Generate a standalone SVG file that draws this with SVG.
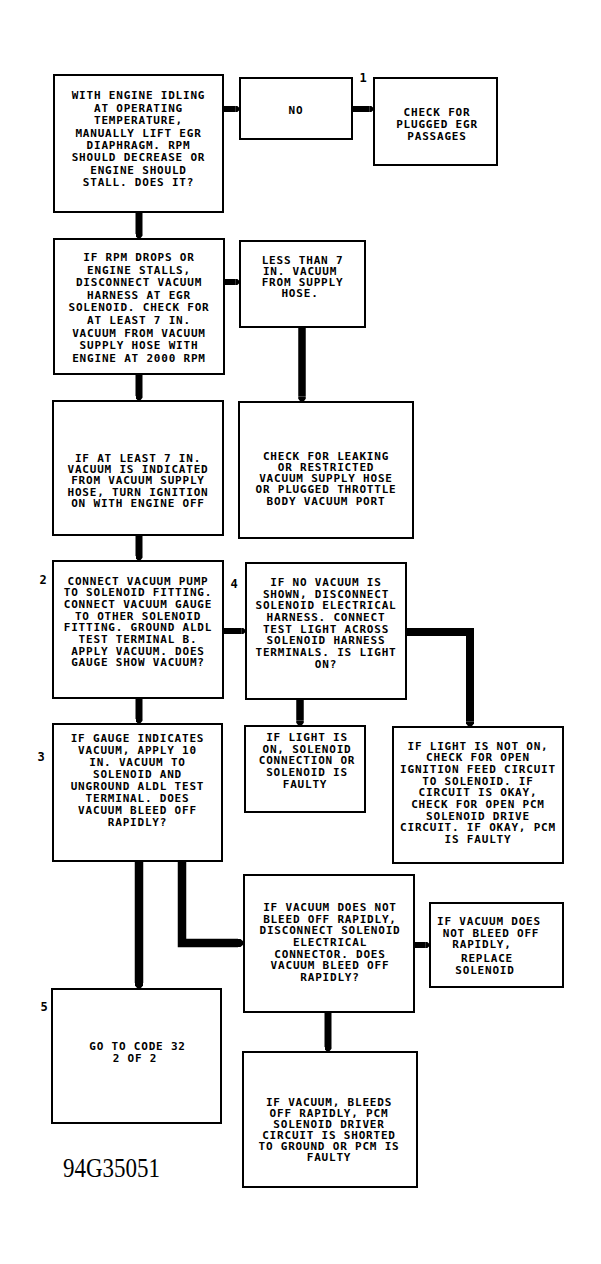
<svg xmlns="http://www.w3.org/2000/svg" width="601" height="1264" viewBox="0 0 601 1264">
<style>
.box{fill:#fff;stroke:#000;stroke-width:2}
.t{font-family:"DejaVu Sans Mono","Liberation Mono",monospace;font-size:11px;letter-spacing:0.8px;font-weight:bold;fill:#000;text-anchor:middle}
.lbl{font-family:"DejaVu Sans Mono","Liberation Mono",monospace;font-size:12px;font-weight:bold;fill:#000;text-anchor:middle}
.c{fill:none;stroke:#000;stroke-linejoin:miter;marker-end:url(#tip)}
</style>
<defs>
<marker id="tip" viewBox="0 -0.5 0.7 1" refX="0" refY="0" markerWidth="0.7" markerHeight="1" orient="auto" markerUnits="strokeWidth">
<path d="M0,-0.5 L0.25,-0.5 Q0.7,-0.2 0.7,0 Q0.7,0.2 0.25,0.5 L0,0.5 Z" fill="#000"/>
</marker>
</defs>
<rect width="601" height="1264" fill="#fff"/>
<g id="connectors">
<path class="c" stroke-width="6" d="M223,109 H235.8"/>
<path class="c" stroke-width="6" d="M352,109 H369.8"/>
<path class="c" stroke-width="7" d="M139,212 V234.1"/>
<path class="c" stroke-width="6" d="M224,282 H235.8"/>
<path class="c" stroke-width="7.5" d="M302,327 V396.75"/>
<path class="c" stroke-width="7" d="M139,374 V396.1"/>
<path class="c" stroke-width="7" d="M139,535 V556.1"/>
<path class="c" stroke-width="6" d="M223,631 H241.8"/>
<path class="c" stroke-width="8" d="M406,632 H470 V721.4"/>
<path class="c" stroke-width="7.5" d="M300,699 V720.75"/>
<path class="c" stroke-width="7" d="M139,698 V719.1"/>
<path class="c" stroke-width="8.5" d="M139,861 V983"/>
<path class="c" stroke-width="8.5" d="M182,861 V943 H238"/>
<path class="c" stroke-width="6" d="M414,945 H425.8"/>
<path class="c" stroke-width="7" d="M328,1012 V1047.1"/>
</g>
<g id="nodeA">
<rect class="box" x="54" y="75" width="169" height="137"/>
<text class="t" x="138.5" y="99.4">WITH ENGINE IDLING</text>
<text class="t" x="138.5" y="111.8">AT OPERATING</text>
<text class="t" x="138.5" y="124.2">TEMPERATURE,</text>
<text class="t" x="138.5" y="136.6">MANUALLY LIFT EGR</text>
<text class="t" x="138.5" y="149">DIAPHRAGM. RPM</text>
<text class="t" x="138.5" y="161.4">SHOULD DECREASE OR</text>
<text class="t" x="138.5" y="173.8">ENGINE SHOULD</text>
<text class="t" x="138.5" y="186.2">STALL. DOES IT?</text>
</g>
<g id="nodeB">
<rect class="box" x="240" y="78" width="112" height="61"/>
<text class="t" x="296" y="113.5">NO</text>
</g>
<g id="label1"><text class="lbl" x="363" y="82">1</text></g>
<g id="nodeC">
<rect class="box" x="374" y="78" width="123" height="87"/>
<text class="t" x="437" y="115.5">CHECK FOR</text>
<text class="t" x="437" y="127.5">PLUGGED EGR</text>
<text class="t" x="437" y="139.5">PASSAGES</text>
</g>
<g id="nodeD">
<rect class="box" x="54" y="239" width="170" height="135"/>
<text class="t" x="139" y="261">IF RPM DROPS OR</text>
<text class="t" x="139" y="273.6">ENGINE STALLS,</text>
<text class="t" x="139" y="286.2">DISCONNECT VACUUM</text>
<text class="t" x="139" y="298.8">HARNESS AT EGR</text>
<text class="t" x="139" y="311.4">SOLENOID. CHECK FOR</text>
<text class="t" x="139" y="324">AT LEAST 7 IN.</text>
<text class="t" x="139" y="336.6">VACUUM FROM VACUUM</text>
<text class="t" x="139" y="349.2">SUPPLY HOSE WITH</text>
<text class="t" x="139" y="361.8">ENGINE AT 2000 RPM</text>
</g>
<g id="nodeE">
<rect class="box" x="240" y="241" width="125" height="86"/>
<text class="t" x="302.5" y="263.7">LESS THAN 7</text>
<text class="t" x="300" y="274.8">IN. VACUUM</text>
<text class="t" x="302.5" y="285.9">FROM SUPPLY</text>
<text class="t" x="300" y="297">HOSE.</text>
</g>
<g id="nodeF">
<rect class="box" x="53" y="401" width="170" height="134"/>
<text class="t" x="138" y="462">IF AT LEAST 7 IN.</text>
<text class="t" x="138" y="473.2">VACUUM IS INDICATED</text>
<text class="t" x="138" y="484.4">FROM VACUUM SUPPLY</text>
<text class="t" x="138" y="495.6">HOSE, TURN IGNITION</text>
<text class="t" x="138" y="506.8">ON WITH ENGINE OFF</text>
</g>
<g id="nodeG">
<rect class="box" x="239" y="402" width="174" height="136"/>
<text class="t" x="326" y="459.5">CHECK FOR LEAKING</text>
<text class="t" x="326" y="470.75">OR RESTRICTED</text>
<text class="t" x="326" y="482">VACUUM SUPPLY HOSE</text>
<text class="t" x="326" y="493.25">OR PLUGGED THROTTLE</text>
<text class="t" x="326" y="504.5">BODY VACUUM PORT</text>
</g>
<g id="label2"><text class="lbl" x="43" y="583.5">2</text></g>
<g id="nodeH">
<rect class="box" x="53" y="561" width="170" height="137"/>
<text class="t" x="138" y="584.5">CONNECT VACUUM PUMP</text>
<text class="t" x="138" y="596.2">TO SOLENOID FITTING.</text>
<text class="t" x="138" y="607.9">CONNECT VACUUM GAUGE</text>
<text class="t" x="138" y="619.6">TO OTHER SOLENOID</text>
<text class="t" x="138" y="631.3">FITTING. GROUND ALDL</text>
<text class="t" x="138" y="643">TEST TERMINAL B.</text>
<text class="t" x="138" y="654.7">APPLY VACUUM. DOES</text>
<text class="t" x="138" y="666.4">GAUGE SHOW VACUUM?</text>
</g>
<g id="label4"><text class="lbl" x="234" y="587.5">4</text></g>
<g id="nodeI">
<rect class="box" x="246" y="563" width="160" height="136"/>
<text class="t" x="326" y="586">IF NO VACUUM IS</text>
<text class="t" x="326" y="597.7">SHOWN, DISCONNECT</text>
<text class="t" x="326" y="609.3">SOLENOID ELECTRICAL</text>
<text class="t" x="326" y="621">HARNESS. CONNECT</text>
<text class="t" x="326" y="632.7">TEST LIGHT ACROSS</text>
<text class="t" x="326" y="644.3">SOLENOID HARNESS</text>
<text class="t" x="326" y="656">TERMINALS. IS LIGHT</text>
<text class="t" x="326" y="667.7">ON?</text>
</g>
<g id="label3"><text class="lbl" x="41" y="760.5">3</text></g>
<g id="nodeL">
<rect class="box" x="53" y="724" width="169" height="137"/>
<text class="t" x="137.5" y="741.5">IF GAUGE INDICATES</text>
<text class="t" x="137.5" y="753.5">VACUUM, APPLY 10</text>
<text class="t" x="137.5" y="765.5">IN. VACUUM TO</text>
<text class="t" x="137.5" y="777.5">SOLENOID AND</text>
<text class="t" x="137.5" y="789.5">UNGROUND ALDL TEST</text>
<text class="t" x="137.5" y="801.5">TERMINAL. DOES</text>
<text class="t" x="137.5" y="813.5">VACUUM BLEED OFF</text>
<text class="t" x="137.5" y="825.5">RAPIDLY?</text>
</g>
<g id="nodeJ">
<rect class="box" x="245" y="726" width="120" height="86"/>
<text class="t" x="307" y="741">IF LIGHT IS</text>
<text class="t" x="307" y="752.7">ON, SOLENOID</text>
<text class="t" x="307" y="764.3">CONNECTION OR</text>
<text class="t" x="307" y="776">SOLENOID IS</text>
<text class="t" x="305" y="787.7">FAULTY</text>
</g>
<g id="nodeK">
<rect class="box" x="393" y="727" width="170" height="136"/>
<text class="t" x="478" y="749.5">IF LIGHT IS NOT ON,</text>
<text class="t" x="478" y="761.2">CHECK FOR OPEN</text>
<text class="t" x="478" y="772.8">IGNITION FEED CIRCUIT</text>
<text class="t" x="478" y="784.5">TO SOLENOID. IF</text>
<text class="t" x="478" y="796.2">CIRCUIT IS OKAY,</text>
<text class="t" x="478" y="807.8">CHECK FOR OPEN PCM</text>
<text class="t" x="478" y="819.5">SOLENOID DRIVE</text>
<text class="t" x="478" y="831.2">CIRCUIT. IF OKAY, PCM</text>
<text class="t" x="478" y="842.8">IS FAULTY</text>
</g>
<g id="nodeM">
<rect class="box" x="244" y="875" width="170" height="137"/>
<text class="t" x="330" y="911">IF VACUUM DOES NOT</text>
<text class="t" x="330" y="922.7">BLEED OFF RAPIDLY,</text>
<text class="t" x="330" y="934.3">DISCONNECT SOLENOID</text>
<text class="t" x="330" y="946">ELECTRICAL</text>
<text class="t" x="330" y="957.7">CONNECTOR. DOES</text>
<text class="t" x="330" y="969.3">VACUUM BLEED OFF</text>
<text class="t" x="330" y="981">RAPIDLY?</text>
</g>
<g id="nodeN">
<rect class="box" x="430" y="903" width="133" height="84"/>
<text class="t" x="489" y="925">IF VACUUM DOES</text>
<text class="t" x="491" y="936.5">NOT BLEED OFF</text>
<text class="t" x="482" y="948">RAPIDLY,</text>
<text class="t" x="487" y="962">REPLACE</text>
<text class="t" x="485" y="974">SOLENOID</text>
</g>
<g id="label5"><text class="lbl" x="44" y="1011">5</text></g>
<g id="nodeO">
<rect class="box" x="52" y="989" width="169" height="134"/>
<text class="t" x="137.5" y="1050">GO TO CODE 32</text>
<text class="t" x="135" y="1061.5">2 OF 2</text>
</g>
<g id="nodeP">
<rect class="box" x="243" y="1052" width="174" height="135"/>
<text class="t" x="329" y="1105.5">IF VACUUM, BLEEDS</text>
<text class="t" x="329" y="1116.6">OFF RAPIDLY, PCM</text>
<text class="t" x="329" y="1127.7">SOLENOID DRIVER</text>
<text class="t" x="329" y="1138.8">CIRCUIT IS SHORTED</text>
<text class="t" x="329" y="1149.9">TO GROUND OR PCM IS</text>
<text class="t" x="329" y="1161">FAULTY</text>
</g>
<text x="63" y="1177" font-family="Liberation Serif, serif" font-size="28" textLength="97" lengthAdjust="spacingAndGlyphs" fill="#000">94G35051</text>
</svg>
